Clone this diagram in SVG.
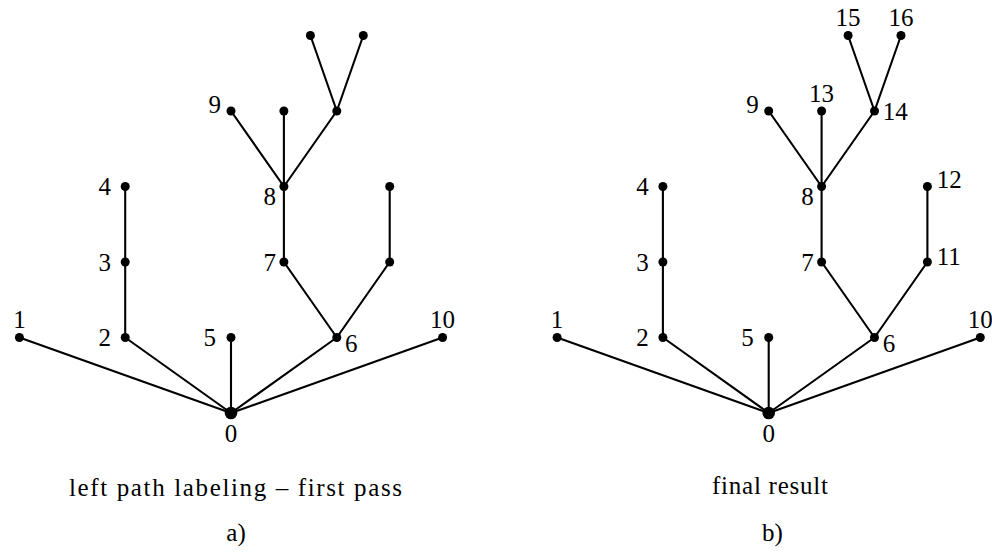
<svg xmlns="http://www.w3.org/2000/svg" width="992" height="553" viewBox="0 0 992 553">
<style>
.e{stroke:#000;stroke-width:2.1;fill:none;stroke-linecap:round}
.d{fill:#000}
.t{font-family:'Liberation Serif','DejaVu Serif',serif;font-size:25px;fill:#000}
.m{text-anchor:middle}
.r{text-anchor:end}
</style>
<rect width="992" height="553" fill="#fff"/>
<g id="diagram-a">
<g id="a-edges">
<line class="e" x1="231" y1="413" x2="19.4" y2="337.5"/>
<line class="e" x1="231" y1="413" x2="125.2" y2="337.5"/>
<line class="e" x1="231" y1="413" x2="231" y2="337.5"/>
<line class="e" x1="231" y1="413" x2="336.8" y2="337.5"/>
<line class="e" x1="231" y1="413" x2="442.6" y2="337.5"/>
<line class="e" x1="125.2" y1="337.5" x2="125.2" y2="186.5"/>
<line class="e" x1="336.8" y1="337.5" x2="283.9" y2="262"/>
<line class="e" x1="283.9" y1="262" x2="283.9" y2="111"/>
<line class="e" x1="283.9" y1="186.5" x2="231" y2="111"/>
<line class="e" x1="283.9" y1="186.5" x2="336.8" y2="111"/>
<line class="e" x1="336.8" y1="111" x2="310.4" y2="35.5"/>
<line class="e" x1="336.8" y1="111" x2="363.3" y2="35.5"/>
<line class="e" x1="336.8" y1="337.5" x2="389.7" y2="262"/>
<line class="e" x1="389.7" y1="262" x2="389.7" y2="186.5"/>
</g>
<g id="a-n0"><circle class="d" cx="231" cy="413" r="6.3"/><text class="t m" x="231" y="442">0</text></g>
<g id="a-n1"><circle class="d" cx="19.4" cy="337.5" r="4.5"/><text class="t m" x="19.4" y="328">1</text></g>
<g id="a-n2"><circle class="d" cx="125.2" cy="337.5" r="4.5"/><text class="t r" x="111" y="346">2</text></g>
<g id="a-n3"><circle class="d" cx="125.2" cy="262" r="4.5"/><text class="t r" x="111" y="270.5">3</text></g>
<g id="a-n4"><circle class="d" cx="125.2" cy="186.5" r="4.5"/><text class="t r" x="111" y="195">4</text></g>
<g id="a-n5"><circle class="d" cx="231" cy="337.5" r="4.5"/><text class="t r" x="216" y="346">5</text></g>
<g id="a-n6"><circle class="d" cx="336.8" cy="337.5" r="4.5"/><text class="t" x="345" y="352">6</text></g>
<g id="a-n7"><circle class="d" cx="283.9" cy="262" r="4.5"/><text class="t r" x="276" y="271">7</text></g>
<g id="a-n8"><circle class="d" cx="283.9" cy="186.5" r="4.5"/><text class="t r" x="276" y="205">8</text></g>
<g id="a-n9"><circle class="d" cx="231" cy="111" r="4.5"/><text class="t r" x="221" y="113">9</text></g>
<g id="a-n10"><circle class="d" cx="442.6" cy="337.5" r="4.5"/><text class="t m" x="442.6" y="328">10</text></g>
<g id="a-n13"><circle class="d" cx="283.9" cy="111" r="4.5"/></g>
<g id="a-n14"><circle class="d" cx="336.8" cy="111" r="4.5"/></g>
<g id="a-n15"><circle class="d" cx="310.4" cy="35.5" r="4.5"/></g>
<g id="a-n16"><circle class="d" cx="363.3" cy="35.5" r="4.5"/></g>
<g id="a-n11"><circle class="d" cx="389.7" cy="262" r="4.5"/></g>
<g id="a-n12"><circle class="d" cx="389.7" cy="186.5" r="4.5"/></g>
<text id="caption-a" class="t m" x="235.5" y="496" textLength="333">left path labeling – first pass</text>
<text id="label-a" class="t m" x="236" y="541">a)</text>
</g>
<g id="diagram-b" transform="translate(537.7,0)">
<g id="b-edges">
<line class="e" x1="231" y1="413" x2="19.4" y2="337.5"/>
<line class="e" x1="231" y1="413" x2="125.2" y2="337.5"/>
<line class="e" x1="231" y1="413" x2="231" y2="337.5"/>
<line class="e" x1="231" y1="413" x2="336.8" y2="337.5"/>
<line class="e" x1="231" y1="413" x2="442.6" y2="337.5"/>
<line class="e" x1="125.2" y1="337.5" x2="125.2" y2="186.5"/>
<line class="e" x1="336.8" y1="337.5" x2="283.9" y2="262"/>
<line class="e" x1="283.9" y1="262" x2="283.9" y2="111"/>
<line class="e" x1="283.9" y1="186.5" x2="231" y2="111"/>
<line class="e" x1="283.9" y1="186.5" x2="336.8" y2="111"/>
<line class="e" x1="336.8" y1="111" x2="310.4" y2="35.5"/>
<line class="e" x1="336.8" y1="111" x2="363.3" y2="35.5"/>
<line class="e" x1="336.8" y1="337.5" x2="389.7" y2="262"/>
<line class="e" x1="389.7" y1="262" x2="389.7" y2="186.5"/>
</g>
<g id="b-n0"><circle class="d" cx="231" cy="413" r="6.3"/><text class="t m" x="231" y="442">0</text></g>
<g id="b-n1"><circle class="d" cx="19.4" cy="337.5" r="4.5"/><text class="t m" x="19.4" y="328">1</text></g>
<g id="b-n2"><circle class="d" cx="125.2" cy="337.5" r="4.5"/><text class="t r" x="111" y="346">2</text></g>
<g id="b-n3"><circle class="d" cx="125.2" cy="262" r="4.5"/><text class="t r" x="111" y="270.5">3</text></g>
<g id="b-n4"><circle class="d" cx="125.2" cy="186.5" r="4.5"/><text class="t r" x="111" y="195">4</text></g>
<g id="b-n5"><circle class="d" cx="231" cy="337.5" r="4.5"/><text class="t r" x="216" y="346">5</text></g>
<g id="b-n6"><circle class="d" cx="336.8" cy="337.5" r="4.5"/><text class="t" x="345" y="352">6</text></g>
<g id="b-n7"><circle class="d" cx="283.9" cy="262" r="4.5"/><text class="t r" x="276" y="271">7</text></g>
<g id="b-n8"><circle class="d" cx="283.9" cy="186.5" r="4.5"/><text class="t r" x="276" y="205">8</text></g>
<g id="b-n9"><circle class="d" cx="231" cy="111" r="4.5"/><text class="t r" x="221" y="113">9</text></g>
<g id="b-n10"><circle class="d" cx="442.6" cy="337.5" r="4.5"/><text class="t m" x="442.6" y="328">10</text></g>
<g id="b-n11"><circle class="d" cx="389.7" cy="262" r="4.5"/><text class="t" x="399" y="265">11</text></g>
<g id="b-n12"><circle class="d" cx="389.7" cy="186.5" r="4.5"/><text class="t" x="399" y="188">12</text></g>
<g id="b-n13"><circle class="d" cx="283.9" cy="111" r="4.5"/><text class="t m" x="283.9" y="101.5">13</text></g>
<g id="b-n14"><circle class="d" cx="336.8" cy="111" r="4.5"/><text class="t" x="345" y="120">14</text></g>
<g id="b-n15"><circle class="d" cx="310.4" cy="35.5" r="4.5"/><text class="t m" x="310.4" y="26">15</text></g>
<g id="b-n16"><circle class="d" cx="363.3" cy="35.5" r="4.5"/><text class="t m" x="363.3" y="26">16</text></g>
<text id="caption-b" class="t m" x="232.3" y="494" textLength="116">final result</text>
<text id="label-b" class="t m" x="234.8" y="541">b)</text>
</g>
</svg>
